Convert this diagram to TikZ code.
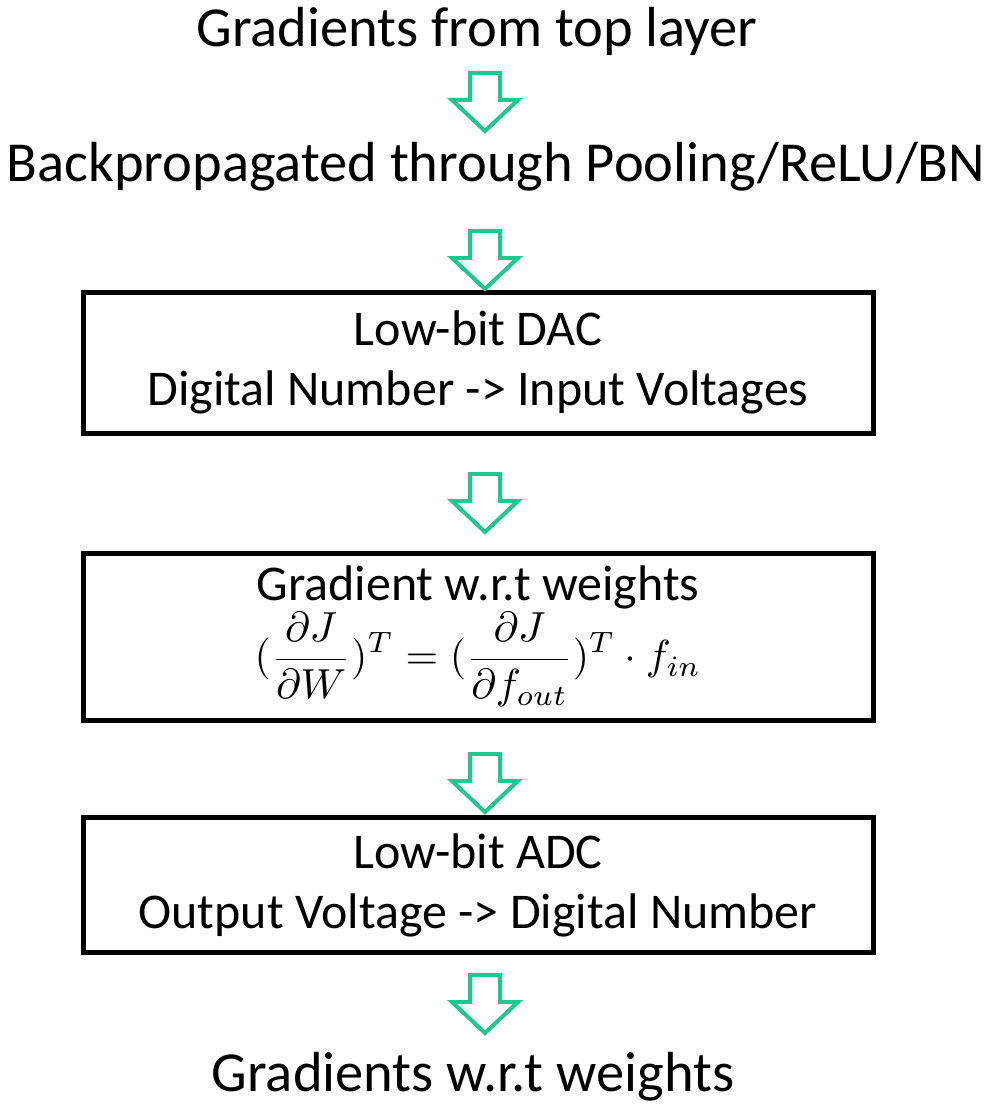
\documentclass[tikz,border=0pt]{standalone}
\usepackage{amsmath}
\usepackage{graphicx}
\usepackage{fontspec}
\setmainfont{Carlito}
\usepackage{tikz}
\usetikzlibrary{positioning}

\definecolor{flowgreen}{RGB}{30,200,140}

\begin{document}
\begin{tikzpicture}[
    x=1pt, y=-1pt,
    steptext/.style={inner sep=0pt, font=\fontsize{56.5}{66}\selectfont},
    stepbox/.style={draw, line width=5pt, minimum width=790pt, inner sep=0pt,
                    align=center, font=\fontsize{50}{60}\selectfont},
    arrowline/.style={draw=flowgreen, line width=4pt, fill=white, line join=miter},
    downarrow/.pic={\path[arrowline] (-15,0) -- (15,0) -- (15,27) -- (33,27)
                    -- (0,58) -- (-33,27) -- (-15,27) -- cycle;}
]
\useasboundingbox (0,0) rectangle (986,1107);

% text lines outside the boxes
\node[steptext] (top) at (477,31) {Gradients from top layer};
\node[steptext] (backprop) at (496,167) {Backpropagated through Pooling/ReLU/BN};

% the three stages
\node[stepbox, minimum height=141pt] (dac) at (478,362.5)
    {Low-bit DAC\\Digital Number -> Input Voltages};
\node[stepbox, minimum height=167pt] (grad) at (478,636.5)
    {Gradient w.r.t weights\\[2pt]
     {\fontsize{10}{12}\selectfont\scalebox{4.2}{%
      $\displaystyle(\frac{\partial J}{\partial W})^T = (\frac{\partial J}{\partial f_{out}})^T \cdot f_{in}$}}};
\node[stepbox, minimum height=135pt] (adc) at (478,885)
    {Low-bit ADC\\Output Voltage -> Digital Number};

\node[steptext] (result) at (473,1077) {Gradients w.r.t weights};

% block arrows
\foreach \ya in {73,231,474,754,975}
    \pic at (485,\ya) {downarrow};
\end{tikzpicture}
\end{document}
